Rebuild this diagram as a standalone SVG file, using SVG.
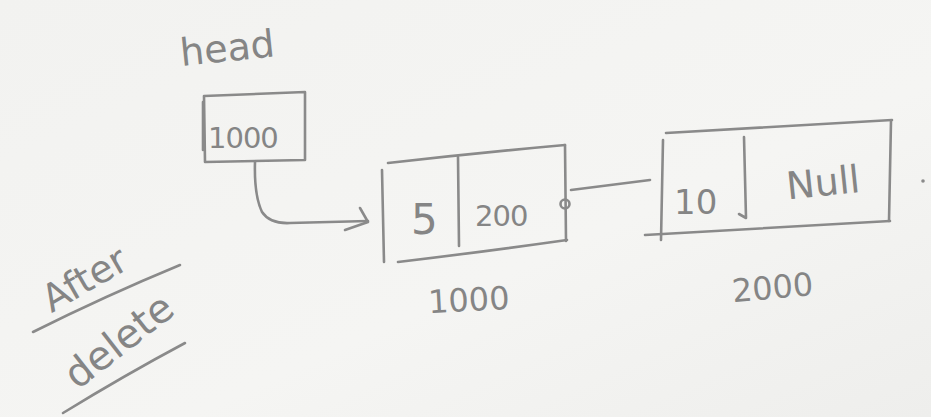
<svg xmlns="http://www.w3.org/2000/svg" width="931" height="417" viewBox="0 0 931 417">
  <defs>
    <linearGradient id="paper" x1="0" y1="0" x2="1" y2="1">
      <stop offset="0" stop-color="#f2f2f0"/>
      <stop offset="0.6" stop-color="#f5f5f3"/>
      <stop offset="1" stop-color="#eeeeec"/>
    </linearGradient>
    <style>
      .pen { fill: none; stroke: #8a8a8a; stroke-width: 2.6; stroke-linecap: round; stroke-linejoin: round; }
      .hand { font-family: "DejaVu Sans", "Liberation Sans", sans-serif; fill: #858585; }
    </style>
  </defs>

  <rect width="931" height="417" fill="url(#paper)"/>

  <!-- head pointer -->
  <g id="head">
    <text class="hand" x="180" y="62" font-size="38" transform="rotate(-6 220 50)">head</text>
    <path class="pen" d="M204 96 Q255 94 305 92 L305 160 Q255 161 205 162 Z"/>
    <path class="pen" d="M203 102 L203 150"/>
    <text class="hand" x="208" y="148" font-size="29" letter-spacing="-1">1000</text>
  </g>

  <!-- first node: 5 | 2000 at 1000 -->
  <g id="node-1000">
    <path class="pen" d="M388 163 Q476 153 565 145"/>
    <path class="pen" d="M382 170 L384 262"/>
    <path class="pen" d="M565 145 L566 241"/>
    <path class="pen" d="M398 262 Q482 252 567 240"/>
    <path class="pen" d="M458 157 L459 246"/>
    <text class="hand" x="411" y="234" font-size="42">5</text>
    <text class="hand" x="475" y="226" font-size="29" letter-spacing="-1">200</text>
    <circle cx="565" cy="204" r="4.5" class="pen"/>
    <text class="hand" x="428" y="311" font-size="32" transform="rotate(-3 470 300)">1000</text>
  </g>

  <!-- second node: 10 | Null at 2000 -->
  <g id="node-2000">
    <path class="pen" d="M666 133 Q780 126 892 120"/>
    <path class="pen" d="M663 140 L661 240"/>
    <path class="pen" d="M891 121 L889 221"/>
    <path class="pen" d="M645 235 Q768 228 890 221"/>
    <path class="pen" d="M744 137 L746 218 L739 214"/>
    <text class="hand" x="674" y="214" font-size="34">10</text>
    <text class="hand" x="786" y="195" font-size="38" transform="rotate(-6 830 180)">Null</text>
    <circle cx="923" cy="181" r="1.8" fill="#8a8a8a"/>
    <text class="hand" x="732" y="298" font-size="32" transform="rotate(-5 780 290)">2000</text>
  </g>

  <!-- side note -->
  <g id="note">
    <text class="hand" x="85" y="292" font-size="38" text-anchor="middle" transform="rotate(-30 85 280)">After</text>
    <path class="pen" d="M33 332 Q105 296 180 265"/>
    <text class="hand" x="118" y="355" font-size="40" text-anchor="middle" transform="rotate(-38 118 340)">delete</text>
    <path class="pen" d="M63 413 Q125 375 185 343"/>
  </g>

  <!-- connectors -->
  <g id="connectors">
    <path class="pen" d="M255 162 Q254 195 262 212 Q270 224 290 223 L368 221"/>
    <path class="pen" d="M360 208 L368 222 L345 230"/>
    <path class="pen" d="M571 190 L650 180"/>
  </g>
</svg>
